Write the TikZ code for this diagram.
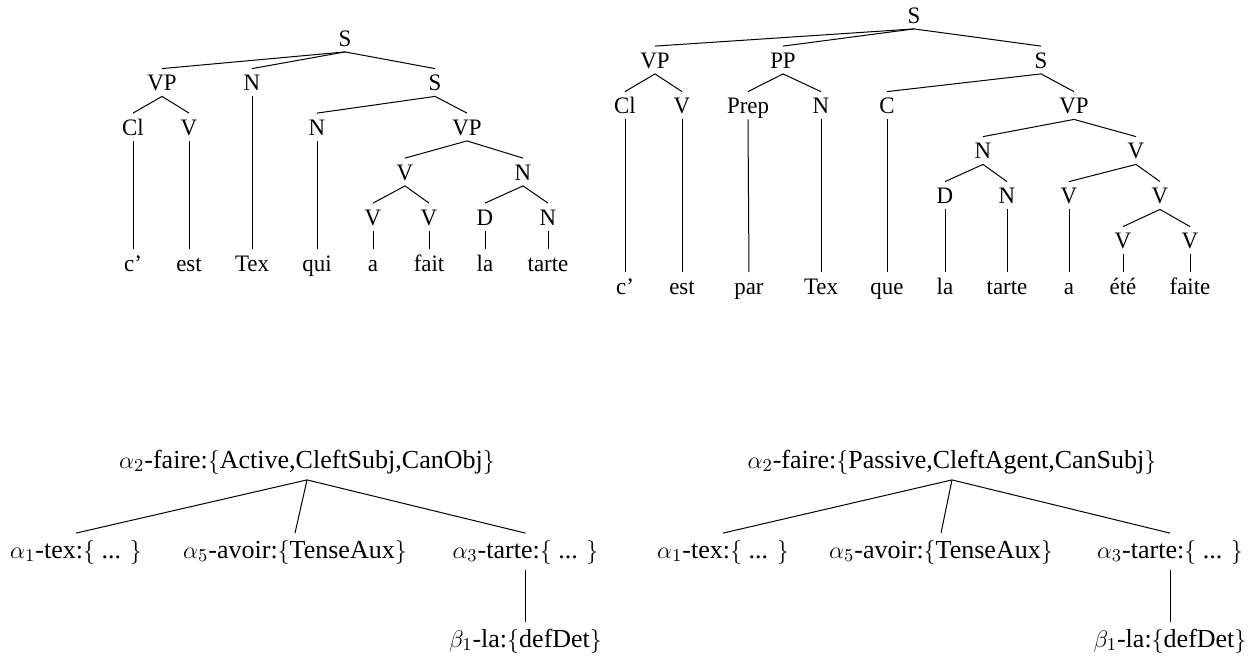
\documentclass[tikz,border=0pt]{standalone}
\usepackage{fontspec}
\setmainfont{Liberation Serif}
\newfontfamily\catfont[Ligatures=TeX,FakeStretch=0.97]{Liberation Serif}
\usepackage{tikz}

\begin{document}
\begin{tikzpicture}[
  x=0.5pt, y=-0.5pt,
  cat/.style={anchor=base, inner xsep=1pt, inner ysep=2.25pt, text height=8.5pt, text depth=0.5pt, font=\catfont\fontsize{11.8}{14}\selectfont},
  word/.style={cat},
  elem/.style={anchor=base, inner xsep=1pt, inner ysep=2.5pt, text height=9.75pt, text depth=3.25pt, font=\fontsize{13}{15}\selectfont},
  branch/.style={line width=0.5pt}
]
\useasboundingbox (0,0) rectangle (1250,661);

% Left parse tree
\node[cat] (lS) at (345,46) {S};
\node[cat] (lVP) at (162,90.5) {VP};
\node[cat] (lN) at (252,90.5) {N};
\node[cat] (lS2) at (435,90.5) {S};
\node[cat] (lCl) at (133,135) {Cl};
\node[cat] (lV) at (189,135) {V};
\node[cat] (lN2) at (317,135) {N};
\node[cat] (lVP2) at (467,135) {VP};
\node[cat] (lV2) at (405,180) {V};
\node[cat] (lN3) at (523,180) {N};
\node[cat] (lV3) at (373,225) {V};
\node[cat] (lV4) at (429,225) {V};
\node[cat] (lD) at (485,225) {D};
\node[cat] (lN4) at (548,225) {N};
\foreach \p/\c in {lS/lVP, lS/lN, lS/lS2, lVP/lCl, lVP/lV, lS2/lN2, lS2/lVP2,
                   lVP2/lV2, lVP2/lN3, lV2/lV3, lV2/lV4, lN3/lD, lN3/lN4}
  \draw[branch] (\p.south) -- (\c.north);

% Left words
\foreach \w/\x/\p [count=\i] in {c'/133/lCl, est/189/lV, Tex/252/lN, qui/317/lN2,
                                 a/373/lV3, fait/429/lV4, la/485/lD, tarte/548/lN4} {
  \node[word] (lw\i) at (\x,271) {\w};
  \draw[branch] (\p.south) -- (lw\i.north);
}

% Right parse tree
\node[cat] (rS) at (914,23) {S};
\node[cat] (rVP) at (655,68) {VP};
\node[cat] (rPP) at (783,68) {PP};
\node[cat] (rS2) at (1041,68) {S};
\node[cat] (rCl) at (625,113.5) {Cl};
\node[cat] (rV) at (682,113.5) {V};
\node[cat] (rPrep) at (748,113.5) {Prep};
\node[cat] (rN) at (821,113.5) {N};
\node[cat] (rC) at (887,113.5) {C};
\node[cat] (rVP2) at (1074,113.5) {VP};
\node[cat] (rN2) at (983,158.5) {N};
\node[cat] (rV2) at (1136,158.5) {V};
\node[cat] (rD) at (945,203.5) {D};
\node[cat] (rN3) at (1007,203.5) {N};
\node[cat] (rV3) at (1069,203.5) {V};
\node[cat] (rV4) at (1160,203.5) {V};
\node[cat] (rV5) at (1123,248.5) {V};
\node[cat] (rV6) at (1190,248.5) {V};
\foreach \p/\c in {rS/rVP, rS/rPP, rS/rS2, rVP/rCl, rVP/rV, rPP/rPrep, rPP/rN,
                   rS2/rC, rS2/rVP2, rVP2/rN2, rVP2/rV2, rN2/rD, rN2/rN3,
                   rV2/rV3, rV2/rV4, rV4/rV5, rV4/rV6}
  \draw[branch] (\p.south) -- (\c.north);

% Right words
\foreach \w/\x/\p [count=\i] in {c'/625/rCl, est/682/rV, par/749/rPrep, Tex/821/rN,
                                 que/887/rC, la/945/rD, tarte/1007/rN3, a/1069/rV3,
                                 été/1123/rV5, faite/1190/rV6} {
  \node[word] (rw\i) at (\x,294) {\w};
  \draw[branch] (\p.south) -- (rw\i.north);
}

% Derivation tree, active
\node[elem] (la2) at (307,468) {$\alpha_2$-faire:$\{$Active,CleftSubj,CanObj$\}$};
\node[elem] (la1) at (76,558) {$\alpha_1$-tex:$\{$ ... $\}$};
\node[elem] (la5) at (295,558) {$\alpha_5$-avoir:$\{$TenseAux$\}$};
\node[elem] (la3) at (525.5,558) {$\alpha_3$-tarte:$\{$ ... $\}$};
\node[elem] (lb1) at (525.5,647) {$\beta_1$-la:$\{$defDet$\}$};
\foreach \p/\c in {la2/la1, la2/la5, la2/la3, la3/lb1}
  \draw[branch] (\p.south) -- (\c.north);

% Derivation tree, passive
\node[elem] (ra2) at (952,468) {$\alpha_2$-faire:$\{$Passive,CleftAgent,CanSubj$\}$};
\node[elem] (ra1) at (723,558) {$\alpha_1$-tex:$\{$ ... $\}$};
\node[elem] (ra5) at (941,558) {$\alpha_5$-avoir:$\{$TenseAux$\}$};
\node[elem] (ra3) at (1170,558) {$\alpha_3$-tarte:$\{$ ... $\}$};
\node[elem] (rb1) at (1170,647) {$\beta_1$-la:$\{$defDet$\}$};
\foreach \p/\c in {ra2/ra1, ra2/ra5, ra2/ra3, ra3/rb1}
  \draw[branch] (\p.south) -- (\c.north);

\end{tikzpicture}
\end{document}
